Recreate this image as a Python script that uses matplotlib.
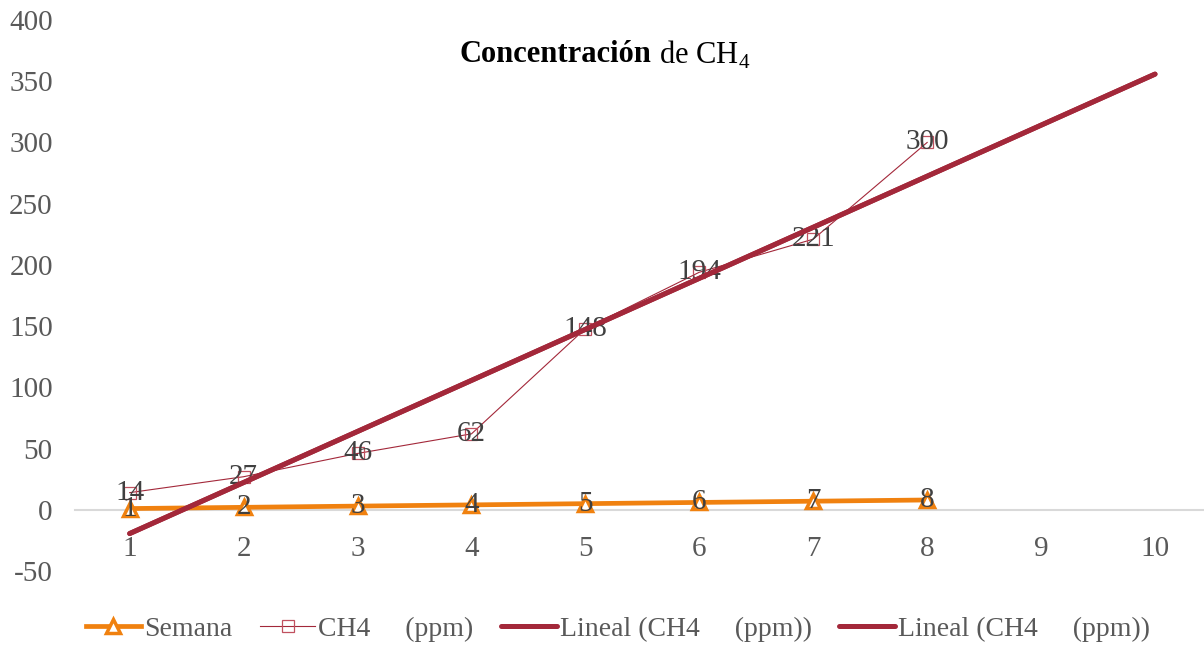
import numpy as np
import matplotlib
matplotlib.use('Agg')
import matplotlib.pyplot as plt

# data
semana = [1, 2, 3, 4, 5, 6, 7, 8]
ch4_ppm = [14, 27, 46, 62, 148, 194, 221, 300]
x_ticks = [1, 2, 3, 4, 5, 6, 7, 8, 9, 10]
y_ticks = [-50, 0, 50, 100, 150, 200, 250, 300, 350, 400]
trend_forward = 2  # trendline forecast periods

plt.rcParams['font.family'] = ['Liberation Serif', 'DejaVu Serif']
plt.rcParams['mathtext.fontset'] = 'custom'
plt.rcParams['mathtext.rm'] = 'Liberation Serif'
plt.rcParams['axes.unicode_minus'] = False

ORANGE = '#F0810F'
RED = '#A3283A'
TXT = '#595959'
LBL = '#404040'

W, H = 1204, 645
fig = plt.figure(figsize=(W / 100, H / 100), dpi=100)
ax = fig.add_axes([75 / W, (H - 571) / H, (W - 75) / W, (571 - 20) / H])

x = np.array(semana)
ax.plot(x, semana, color=ORANGE, lw=3.4, marker='^', ms=10, mfc='white',
        mec=ORANGE, mew=2.5, zorder=2, label='Semana')
ax.plot(x, ch4_ppm, color=RED, lw=0.8, marker='s', ms=9, mfc='none',
        mec='#C0505F', mew=0.9, zorder=2.5, label='CH4     (ppm)')

# linear trendline (added twice in the original)
coef = np.polyfit(x, ch4_ppm, 1)
xt = np.array([x[0], x[-1] + trend_forward])
for _ in range(2):
    ax.plot(xt, np.polyval(coef, xt), color=RED, lw=3.6, zorder=4,
            solid_capstyle='round', label='Lineal (CH4     (ppm))')

for xi, v in zip(x, semana):
    ax.text(xi, v, str(v), ha='center', va='center', fontsize=21, color=LBL, zorder=3)
for xi, v in zip(x, ch4_ppm):
    ax.text(xi, v, str(v), ha='center', va='center', fontsize=21, color=LBL, zorder=3)

ax.set_xlim(0.52, 10.43)
ax.set_ylim(-50, 400)
ax.set_xticks(x_ticks)
ax.set_yticks(y_ticks)
ax.tick_params(axis='both', length=0, labelsize=21, labelcolor=TXT)
ax.tick_params(axis='x', pad=19)
ax.tick_params(axis='y', pad=16)
for s in ['top', 'right', 'left']:
    ax.spines[s].set_visible(False)
ax.spines['bottom'].set_position(('data', 0))
ax.spines['bottom'].set_color('#D9D9D9')
ax.spines['bottom'].set_linewidth(1.5)
ax.spines['bottom'].set_zorder(1)

fig.text(651 / W, 1 - 55 / H, 'Concentración', ha='right', va='center',
         fontsize=22, fontweight='bold', color='black')
fig.text(659 / W, 1 - 55 / H, 'de CH$_4$', ha='left', va='center',
         fontsize=22, color='black')

handles, labels = ax.get_legend_handles_labels()
fig.legend(handles, labels, loc='center', bbox_to_anchor=(0.513, 1 - 629 / H),
           ncol=4, frameon=False, fontsize=20, labelcolor=TXT,
           handlelength=2.0, handletextpad=0.1, columnspacing=1.0)

fig.savefig('out.png', dpi=100)
